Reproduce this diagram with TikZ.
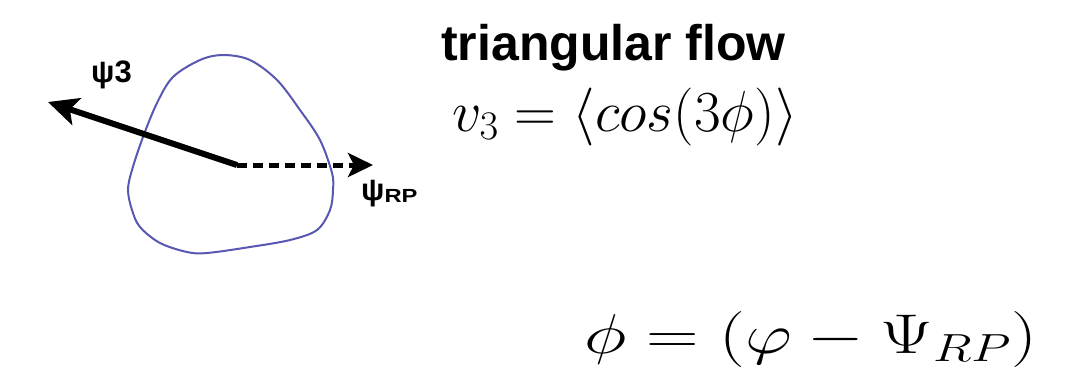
\RequirePackage{fix-cm}
\documentclass[tikz,border=0pt]{standalone}
\usepackage{fontspec}
\setsansfont{Liberation Sans}
\usepackage{amsmath}
\usetikzlibrary{arrows.meta,positioning,calc}
\definecolor{ink}{RGB}{0,0,0}
\definecolor{rim}{RGB}{88,88,178}
\tikzset{
  every picture/.style={color=ink, x=1pt, y=-1pt},
  rimline/.style={draw=rim, line width=2pt},
  axis3/.style={-{Stealth[length=30pt,width=28pt,inset=7pt]}, line width=6pt},
  axisrp/.style={-{Stealth[length=25pt,width=24pt,inset=6pt]}, line width=5pt, dash pattern=on 10pt off 6pt},
  lbl/.style={font=\sffamily\bfseries\fontsize{31}{34}\selectfont, inner sep=0pt, anchor=base west},
  head/.style={font=\sffamily\bfseries\fontsize{50}{56}\selectfont, inner sep=0pt, anchor=base west},
  eqn/.style={inner sep=0pt, anchor=base west},
}
\begin{document}
\begin{tikzpicture}
  % triangular (third harmonic) shape with its plane and the reaction plane
  \useasboundingbox (0,0) rectangle (1076,373);
  \draw[rimline] plot[smooth cycle, tension=0.55] coordinates {
    (223,55) (250,60) (277,80) (300,110) (320,140) (332,173) (333,190)
    (330,210) (317,230) (290,240) (250,247) (207,253) (187,252) (160,243)
    (140,227) (132,210) (128,190) (132,170) (143,137) (157,103) (173,77)
    (200,60)};
  \coordinate (ctr) at (237,165);
  \coordinate (tip3) at (48,102);
  \coordinate (tiprp) at (373,165);
  \draw[axis3] (ctr) -- (tip3);
  \draw[axisrp] (ctr) -- (tiprp);
  \node[lbl] (psi3) at (91,82) {ψ3};
  \node[lbl] (psirp) at (361,200) {ψ\raisebox{-2pt}{\fontsize{19}{22}\selectfont\scalebox{1.25}[1]{RP}}};
  \node[head] (title) at (441,60) {triangular flow};
  \node[eqn, font=\fontsize{58}{64}\selectfont] (vthree) at (452,131) {$v_3 = \langle cos(3\phi)\rangle$};
  \node[eqn, font=\fontsize{56}{62}\selectfont] (phidef) at (584,353) {\scalebox{1.3}[1]{$\phi = (\varphi - \Psi_{RP})$}};
\end{tikzpicture}
\end{document}
